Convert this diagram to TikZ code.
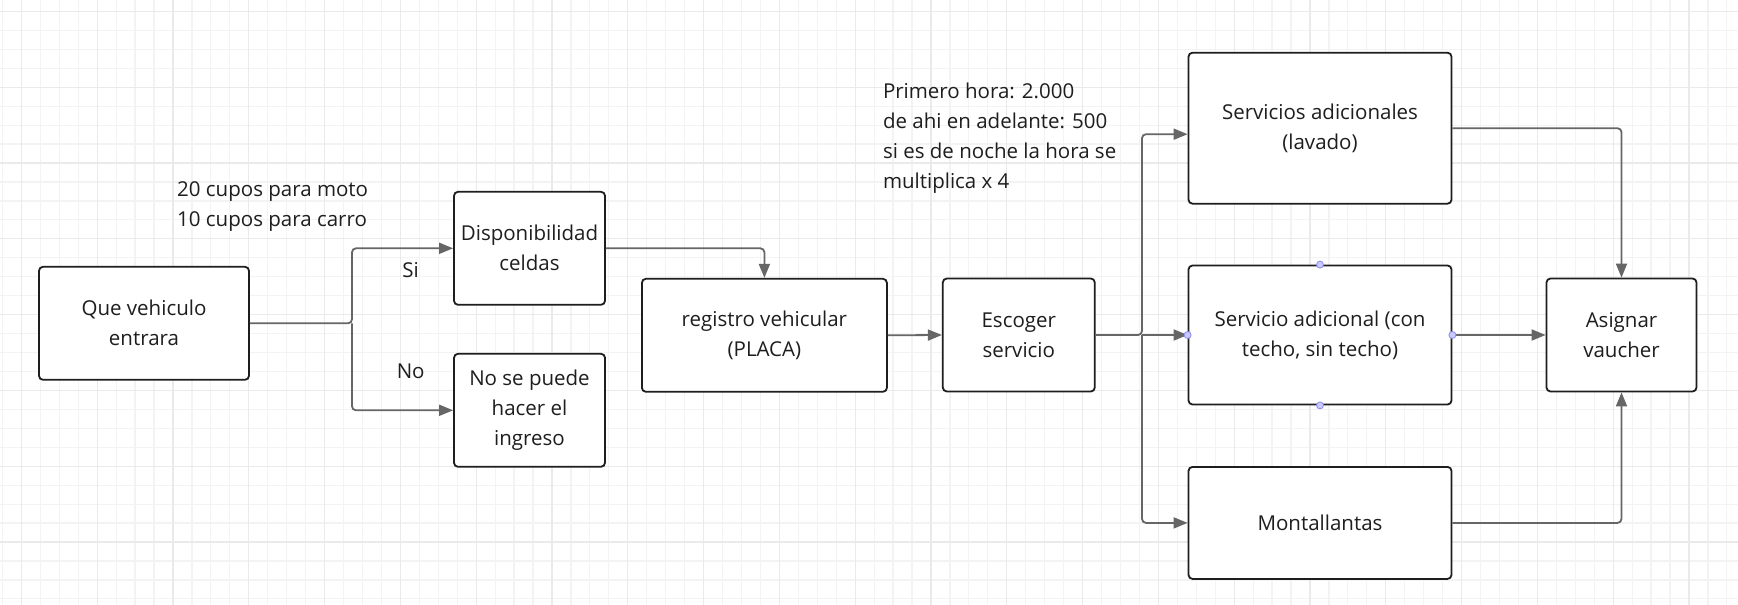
\documentclass[tikz,border=0pt]{standalone}
\usepackage{fontspec}
\setmainfont{Open Sans}
\usetikzlibrary{arrows.meta}
\definecolor{linegray}{HTML}{666666}
\definecolor{boxline}{HTML}{1E1E1E}
\definecolor{gridminor}{HTML}{F3F3F3}
\definecolor{gridmajor}{HTML}{EAEAEA}
\definecolor{handle}{HTML}{C9C9FF}
\definecolor{handleline}{HTML}{8C8CF0}
\tikzset{
  box/.style={draw=boxline, text=boxline, line width=1.8pt, rounded corners=4pt,
    fill=white, align=center, inner sep=0pt},
  conn/.style={draw=linegray, line width=1.8pt, rounded corners=4pt,
    -{Triangle[length=14pt,width=11pt]}},
  note/.style={text=boxline, align=left, inner sep=0pt},
}
\begin{document}
\begin{tikzpicture}[x=1pt, y=-1pt, font=\fontsize{20.5}{30}\selectfont]
  \useasboundingbox (0,0) rectangle (1738,605);
  \fill[white] (0,0) rectangle (1738,605);
  % grid
  \foreach \i in {0,...,91}
    \draw[gridminor, line width=1.2pt] ({2.4+18.95*\i},0) -- ++(0,605);
  \foreach \j in {0,...,31}
    \draw[gridminor, line width=1.2pt] (0,{11.4+18.95*\j}) -- ++(1738,0);
  \foreach \i in {1,5,...,89}
    \draw[gridmajor, line width=1.2pt] ({2.4+18.95*\i},0) -- ++(0,605);
  \foreach \j in {0,4,...,28}
    \draw[gridmajor, line width=1.2pt] (0,{11.4+18.95*\j}) -- ++(1738,0);

  \node[box, minimum width=210pt, minimum height=113pt] (que) at (144,323.3) {Que vehiculo\\entrara};
  \node[box, minimum width=151pt, minimum height=113pt] (disp) at (529.5,248.3) {Disponibilidad\\celdas};
  \node[box, minimum width=151pt, minimum height=113pt] (nope) at (529.5,410.3) {No se puede\\hacer el\\ingreso};
  \node[box, minimum width=245pt, minimum height=113pt] (reg) at (764.4,335.3) {registro vehicular\\(PLACA)};
  \node[box, minimum width=152pt, minimum height=113pt] (esc) at (1018.8,335) {Escoger\\servicio};
  \node[box, minimum width=263pt, minimum height=151pt] (serv1) at (1320,128.2) {Servicios adicionales\\(lavado)};
  \node[box, minimum width=263pt, minimum height=139pt] (ctecho) at (1320,335) {Servicio adicional (con\\techo, sin techo)};
  \node[box, minimum width=263pt, minimum height=112pt] (mont) at (1320,522.9) {Montallantas};
  \node[box, minimum width=150pt, minimum height=113pt] (asig) at (1621.5,335) {Asignar\\vaucher};

  \node[note, anchor=west] (cupos) at (177,206.7) {20 cupos para moto\\10 cupos para carro};
  \node[note, anchor=west] (tarifa) at (882.8,138.2) {Primero hora: 2.000\\de ahi en adelante: 500\\si es de noche la hora se\\multiplica x 4};
  \node[note] (si) at (410.7,270) {Si};
  \node[note] (no) at (410.7,371.7) {No};

  \coordinate (split1) at (352,323.3);
  \coordinate (split2) at (1142,335);
  \draw[conn] (que.east) -- (split1) |- (disp.west);
  \draw[conn] (split1) |- (nope.west);
  \draw[conn] (disp.east) -| (reg.north);
  \draw[conn] (reg.east) -- (esc.west);
  \draw[conn] (esc.east) -- (split2) |- ([yshift=-6pt]serv1.west);
  \draw[conn] (split2) -- (ctecho.west);
  \draw[conn] (split2) |- (mont.west);
  \draw[conn] (ctecho.east) -- (asig.west);
  \draw[conn] (serv1.east) -| (asig.north);
  \draw[conn] (mont.east) -| (asig.south);

  \foreach \a in {north,south,east,west}
    \draw[handleline, fill=handle, line width=0.8pt] (ctecho.\a) circle (3.5pt);
\end{tikzpicture}
\end{document}
